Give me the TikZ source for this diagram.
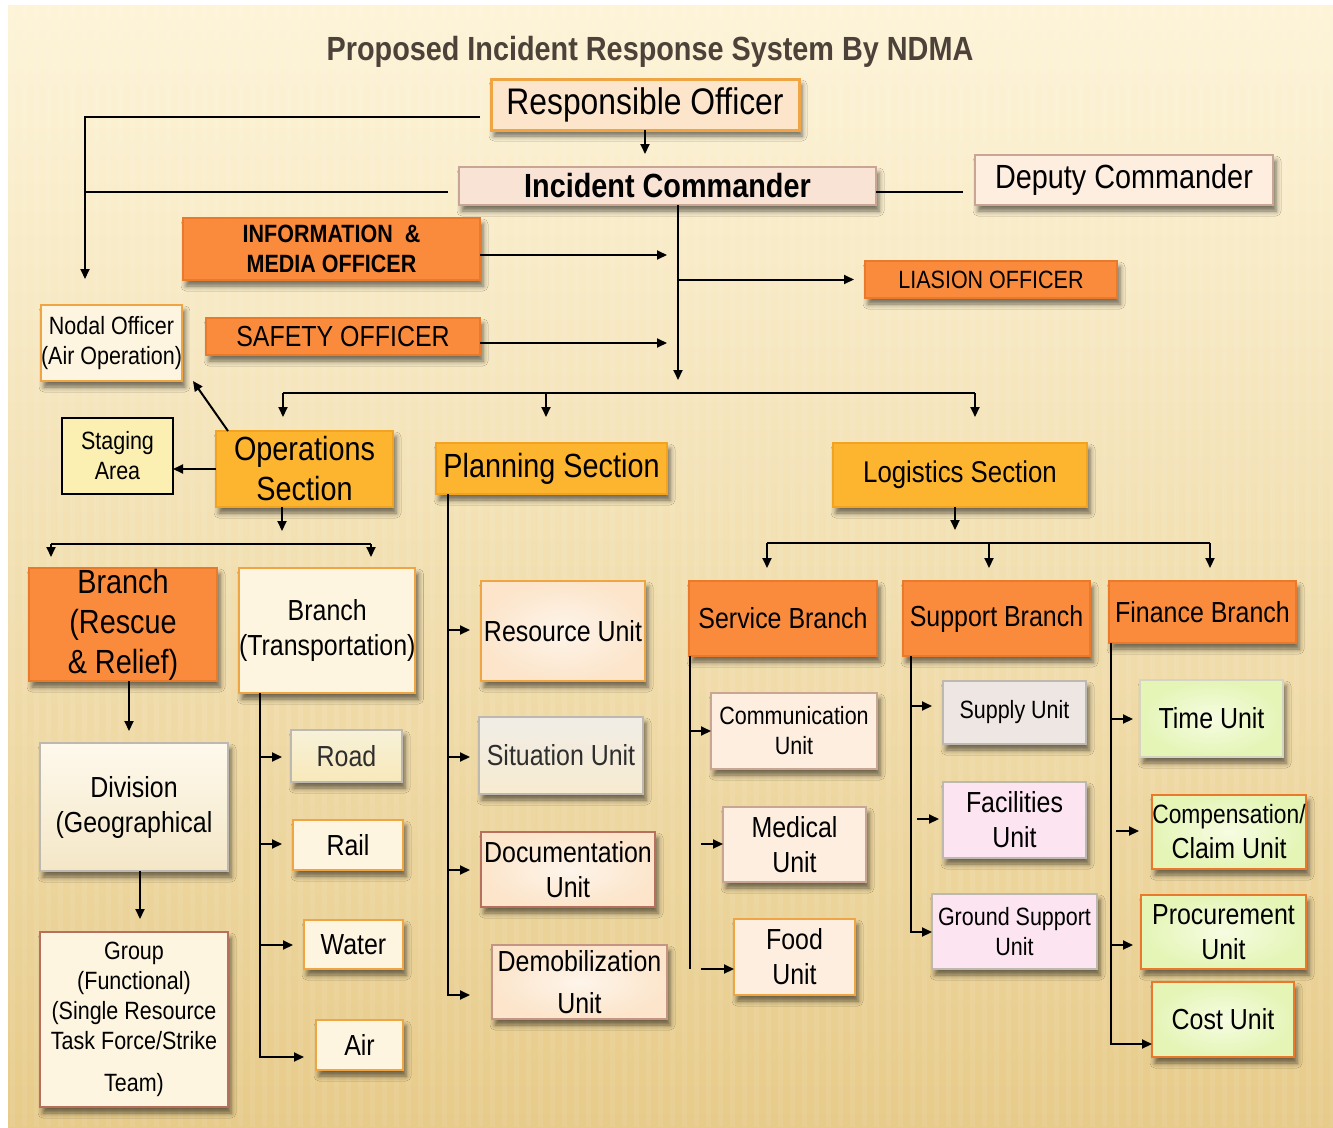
\documentclass[tikz,border=0pt]{standalone}
\usepackage{fontspec}
\setmainfont{Liberation Sans}[FakeStretch=0.86]
\usetikzlibrary{arrows.meta,shadows.blur,calc}

\definecolor{bgtop}{HTML}{FDF4D8}
\definecolor{bgmid}{HTML}{F8E6B4}
\definecolor{bgbot}{HTML}{E7CB8A}
\definecolor{titlec}{HTML}{4D4239}
\definecolor{orng}{HTML}{FA8B3D}
\definecolor{orngdk}{HTML}{E97A2C}
\definecolor{ambr}{HTML}{FDB42F}
\definecolor{ambrdk}{HTML}{F3A322}
\definecolor{peachA}{HTML}{FCE5CB}
\definecolor{peachB}{HTML}{FDEEE0}
\definecolor{linen}{HTML}{F8E3D5}
\definecolor{brownln}{HTML}{C9A693}
\definecolor{redbrown}{HTML}{B8705E}
\definecolor{lorng}{HTML}{F0A545}
\definecolor{cream}{HTML}{FEF5E0}
\definecolor{stage}{HTML}{FBEFB2}
\definecolor{greyln}{HTML}{BDB8B0}
\definecolor{supply}{HTML}{EEE6E3}
\definecolor{pinkf}{HTML}{FCE4F0}
\definecolor{greenin}{HTML}{F6FCE2}
\definecolor{greenout}{HTML}{E4F5B6}

% place a box by its top-left and bottom-right corners
\newcommand\boxat[7]{\node[#1,anchor=north west,minimum width={(#5-#3)*1pt},minimum height={(#6-#4)*1pt}] (#2) at (#3,#4) {#7};}

\begin{document}
\begin{tikzpicture}[x=1pt,y=-1pt,
  box/.style={draw, line width=2pt, inner sep=0pt, outer sep=0pt, align=center, text=black,
    blur shadow={shadow xshift=3pt, shadow yshift=-6pt, shadow blur radius=5pt, shadow opacity=55}},
  flat/.style={draw, line width=2pt, inner sep=0pt, outer sep=0pt, align=center, text=black},
  f33/.style={font=\fontsize{33.5}{40}\selectfont},
  f30/.style={font=\fontsize{30}{36}\selectfont},
  f29/.style={font=\fontsize{29}{35}\selectfont},
  f25/.style={font=\fontsize{25}{30}\selectfont},
  orangebox/.style={box, fill=orng, draw=orngdk},
  sectionbox/.style={box, fill=ambr, draw=ambrdk},
  peachbox/.style={box, inner color=white!60!peachA, outer color=peachA, draw=lorng},
  greenbox/.style={box, inner color=greenin, outer color=greenout},
  conn/.style={line width=2pt, black},
  arr/.style={conn, -{Triangle[length=10pt,width=9pt]}}]

\useasboundingbox (0,0) rectangle (1333,1127);

% backdrop
\fill[white] (0,0) rectangle (1333,1127);
\shade[top color=bgtop, middle color=bgmid, bottom color=bgbot] (8,5) rectangle (1333,1127);
\foreach \i in {0,...,110}
  \fill[white, opacity=0.07] ({10+12*\i},5) rectangle ++(5,1122);

% heading
\node[font=\bfseries\fontsize{33.5}{40}\selectfont, text=titlec] (title) at (650,52)
  {Proposed Incident Response System By NDMA};

% command staff
\boxat{box, fill=peachA, draw=lorng, line width=3pt, font=\fontsize{37}{44}\selectfont}{ro}{491}{79}{799}{130}{Responsible Officer}
\boxat{box, fill=linen, draw=brownln, font=\bfseries\fontsize{33.5}{40}\selectfont}{ic}{459}{167}{876}{205}{Incident Commander}
\boxat{box, fill=peachB, draw=brownln, f33}{dep}{975}{155}{1273}{205}{Deputy Commander}
\boxat{orangebox, font=\bfseries\fontsize{25}{30}\selectfont}{info}{183}{218}{480}{280}{INFORMATION~~\&\\MEDIA OFFICER}
\boxat{orangebox, f25}{liaison}{865}{261}{1117}{298}{LIASION OFFICER}
\boxat{orangebox, font=\fontsize{29}{35}\selectfont}{safety}{206}{318}{480}{355}{SAFETY OFFICER}
\boxat{box, fill=cream, draw=lorng, f25}{nodal}{41}{305}{173}{381}{Nodal Officer\\(Air Operation)}

% sections
\boxat{flat, fill=stage, draw=black, f25}{staging}{62}{418}{173}{494}{Staging\\Area}
\boxat{sectionbox, f33}{ops}{216}{431}{393}{507}{Operations\\Section}
\boxat{sectionbox, f33}{plan}{436}{443}{667}{494}{Planning Section}
\boxat{sectionbox, f30}{logi}{833}{443}{1087}{507}{Logistics Section}

% operations branches
\boxat{orangebox, f33}{rescue}{29}{568}{217}{681}{Branch\\(Rescue\\\& Relief)}
\boxat{box, fill=cream, draw=lorng, f29}{trans}{239}{568}{414}{693}{Branch\\(Transportation)}
\boxat{box, top color=white!40!cream, bottom color={rgb,255:red,244;green,231;blue,199}, draw=greyln, f29}{div}{40}{743}{228}{871}{Division\\(Geographical}
\boxat{box, fill=cream, draw=redbrown, f25}{group}{40}{932}{228}{1107}{Group\\(Functional)\\(Single Resource\\Task Force/Strike\\[12pt]Team)}
\boxat{box, top color={rgb,255:red,247;green,241;blue,216}, bottom color={rgb,255:red,248;green,233;blue,186}, draw=greyln, f29, text=black!82}{road}{291}{730}{402}{782}{Road}
\boxat{box, fill=cream, draw=lorng, f29}{rail}{293}{820}{403}{870}{Rail}
\boxat{box, fill=cream, draw=lorng, f29}{water}{304}{920}{403}{969}{Water}
\boxat{box, fill=cream, draw=lorng, f29}{air}{316}{1020}{403}{1070}{Air}

% planning units
\boxat{peachbox, f29}{resource}{481}{581}{645}{681}{Resource Unit}
\boxat{box, top color={rgb,255:red,241;green,237;blue,230}, bottom color={rgb,255:red,247;green,235;blue,208}, draw=greyln, f29, text=black!82}{situation}{479}{717}{643}{794}{Situation Unit}
\boxat{peachbox, draw=redbrown, f29}{docu}{481}{832}{655}{907}{Documentation\\Unit}
\boxat{peachbox, draw={rgb,255:red,196;green,148;blue,132}, f29}{demob}{492}{945}{667}{1019}{Demobilization\\[7pt]Unit}

% logistics branches
\boxat{orangebox, f29}{service}{689}{581}{877}{656}{Service Branch}
\boxat{orangebox, f29}{support}{903}{581}{1090}{656}{Support Branch}
\boxat{orangebox, f29}{finance}{1109}{581}{1296}{643}{Finance Branch}

\boxat{box, fill=peachB, draw=brownln, f25}{comm}{711}{693}{877}{769}{Communication\\Unit}
\boxat{box, fill=peachB, draw=brownln, f29}{medical}{723}{807}{866}{882}{Medical\\Unit}
\boxat{box, fill=peachB, draw=lorng, f29}{food}{734}{919}{855}{995}{Food\\Unit}

\boxat{box, fill=supply, draw=greyln, f25}{supply}{943}{681}{1086}{744}{Supply Unit}
\boxat{box, fill=pinkf, draw=greyln, f29}{facil}{943}{782}{1086}{858}{Facilities\\Unit}
\boxat{box, fill=pinkf, draw=greyln, f25}{ground}{932}{894}{1097}{969}{Ground Support\\Unit}

\boxat{greenbox, draw={rgb,255:red,212;green,212;blue,196}, f29}{time}{1140}{680}{1283}{757}{Time Unit}
\boxat{greenbox, draw=orngdk, f29}{comp}{1152}{795}{1306}{869}{{\fontsize{26.5}{30}\selectfont Compensation/}\\Claim Unit}
\boxat{greenbox, draw=orngdk, f29}{proc}{1141}{895}{1306}{969}{Procurement\\Unit}
\boxat{greenbox, draw=orngdk, f29}{cost}{1152}{982}{1294}{1057}{Cost Unit}

% reporting lines of the command staff
\coordinate (roL) at (480,117);
\coordinate (icL) at (448,192);
\coordinate (nodalIn) at (85,279);
\draw[arr] (roL) -| (nodalIn);
\draw[conn] (icL) -- (nodalIn |- icL);
\draw[arr] (ro.south) -- ++(0,24);
\draw[conn] (ic.east |- 0,192) -- (963,192);
\coordinate (trunkTop) at (678,205);
\coordinate (trunkBot) at (678,380);
\draw[arr] (trunkTop) -- (trunkBot);
\draw[arr] (info.east |- 0,255) -- (667,255);
\draw[arr, shorten >=11pt] (trunkTop |- liaison.west) -- (liaison.west);
\draw[arr] (safety.east |- 0,343) -- (667,343);

% sections
\draw[conn] (283,393) -- (975,393);
\foreach \x in {283,546,975}
  \draw[arr] (\x,393) -- (\x,417);

% operations section
\draw[arr] ($(ops.north west)+(12,0)$) -- ($(nodal.south east)+(11,0)$);
\draw[arr] (ops.west) -- (staging.east |- ops.west);
\draw[arr] (282,507) -- (282,531);
\draw[conn] (51,544) -- (371,544);
\draw[arr] (51,544) -- (51,557);
\draw[arr] (371,544) -- (371,557);
\draw[arr] (rescue.south -| 129,0) -- (129,731);
\draw[arr] (div.south -| 140,0) -- (140,919);
\coordinate (tr) at (260,693);
\draw[arr] (tr) |- (air.west |- 0,1057) [shorten >=12pt];
\draw[arr] (260,757) -- (282,757);
\draw[arr] (260,844) -- (282,844);
\draw[arr] (260,945) -- (293,945);

% planning section
\coordinate (pl) at (448,494);
\draw[arr] (pl) |- (470,995);
\foreach \y in {630,757,870}
  \draw[arr] (448,\y) -- (470,\y);

% logistics section
\draw[arr] (955,507) -- (955,530);
\draw[conn] (767,543) -- (1210,543);
\foreach \x in {767,989,1210}
  \draw[arr] (\x,543) -- (\x,568);

\draw[conn] (690,656) -- (690,969);
\draw[arr] (690,731) -- (comm.west |- 0,731);
\draw[arr] (701,844) -- (medical.west |- 0,844);
\draw[arr] (701,969) -- (food.west |- 0,969);

\draw[arr] (911,656) |- (ground.west |- 0,932);
\draw[arr] (911,706) -- (932,706);
\draw[arr] (917,819) -- (939,819);

\draw[arr] (1111,643) |- (cost.west |- 0,1044);
\draw[arr] (1111,719) -- (1133,719);
\draw[arr] (1116,831) -- (1139,831);
\draw[arr] (1111,945) -- (1133,945);

\end{tikzpicture}
\end{document}
